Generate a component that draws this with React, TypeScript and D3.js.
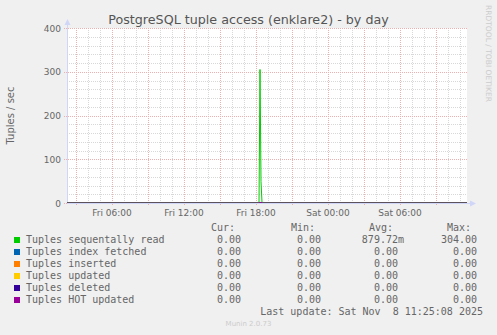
import React from "react";
import * as d3 from "d3";

const W = 497;
const H = 335;

const title = "PostgreSQL tuple access (enklare2) - by day";
const yLabel = "Tuples / sec";
const yTicks = [0, 100, 200, 300, 400];
const timeStart = new Date(2025, 10, 7, 2, 15);
const timeEnd = new Date(2025, 10, 8, 11, 35);
const xTickLabels = ["Fri 06:00", "Fri 12:00", "Fri 18:00", "Sat 00:00", "Sat 06:00"];
const xTickTimes = [
  new Date(2025, 10, 7, 6),
  new Date(2025, 10, 7, 12),
  new Date(2025, 10, 7, 18),
  new Date(2025, 10, 8, 0),
  new Date(2025, 10, 8, 6),
];

// sequential-read series (5-minute samples; 0 elsewhere)
const seqTimes = [
  new Date(2025, 10, 7, 2, 15),
  new Date(2025, 10, 7, 18, 15),
  new Date(2025, 10, 7, 18, 20),
  new Date(2025, 10, 7, 18, 25),
  new Date(2025, 10, 7, 18, 30),
  new Date(2025, 10, 8, 11, 35),
];
const seqValues = [0, 0, 304, 48, 0, 0];

const seriesNames = [
  "Tuples sequentally read",
  "Tuples index fetched",
  "Tuples inserted",
  "Tuples updated",
  "Tuples deleted",
  "Tuples HOT updated",
];
const seriesColors = ["#00CC00", "#0066B3", "#FF8000", "#FFCC00", "#330099", "#990099"];
const curValues = ["0.00", "0.00", "0.00", "0.00", "0.00", "0.00"];
const minValues = ["0.00", "0.00", "0.00", "0.00", "0.00", "0.00"];
const avgValues = ["879.72m", "0.00 ", "0.00 ", "0.00 ", "0.00 ", "0.00 "];
const maxValues = ["304.00", "0.00", "0.00", "0.00", "0.00", "0.00"];
const lastUpdate = "Last update: Sat Nov  8 11:25:08 2025";

const PL = 67, PR = 467, PT = 28, PB = 203;

export default function App() {
  const x = d3.scaleTime().domain([timeStart, timeEnd]).range([PL, PR]);
  const y = d3.scaleLinear().domain([0, 400]).range([PB, PT]);

  const hours = d3.timeHour.range(timeStart, timeEnd);
  const minorY = d3.range(0, 401, 20);

  const line = d3
    .line<number>()
    .x((_, i) => x(seqTimes[i]))
    .y((v) => y(v));

  const flat = d3
    .line<Date>()
    .x((t) => x(t))
    .y(() => y(0));

  const mono = "'DejaVu Sans Mono', monospace";
  const sans = "'DejaVu Sans', sans-serif";
  const fc = "#666666";

  const majorColor = "#EDB0B0";
  const minorColor = "#D8D8D8";

  return (
    <svg
      width={W}
      height={H}
      style={{ position: "absolute", left: 0, top: 0, display: "block" }}
      xmlns="http://www.w3.org/2000/svg"
    >
      <rect x={0} y={0} width={W} height={H} fill="#F0F0F0" />
      <rect x={PL} y={PT} width={PR - PL} height={PB - PT} fill="#FFFFFF" />

      {/* minor grid */}
      {minorY
        .filter((v) => v % 100 !== 0)
        .map((v) => (
          <line key={"my" + v} x1={PL} x2={PR} y1={Math.round(y(v)) + 0.5} y2={Math.round(y(v)) + 0.5}
            stroke={minorColor} strokeDasharray="1,1" />
        ))}
      {hours
        .filter((h) => h.getHours() % 3 !== 0)
        .map((h) => (
          <line key={"mx" + +h} x1={Math.round(x(h)) + 0.5} x2={Math.round(x(h)) + 0.5} y1={PT} y2={PB}
            stroke={minorColor} strokeDasharray="1,1" />
        ))}
      {/* major grid */}
      {yTicks.map((v) => (
        <line key={"My" + v} x1={PL - 3} x2={PR} y1={Math.round(y(v)) + 0.5} y2={Math.round(y(v)) + 0.5}
          stroke={majorColor} strokeDasharray="1,1" />
      ))}
      {hours
        .filter((h) => h.getHours() % 3 === 0)
        .map((h) => (
          <line key={"Mx" + +h} x1={Math.round(x(h)) + 0.5} x2={Math.round(x(h)) + 0.5} y1={PT} y2={PB + 3}
            stroke={majorColor} strokeDasharray="1,1" />
        ))}

      {/* axes */}
      <line x1={PL + 0.5} x2={PL + 0.5} y1={PB} y2={PT - 4} stroke="#CFD6F8" />
      <path d={`M${PL - 2.5},${PT - 3} L${PL + 3.5},${PT - 3} L${PL + 0.5},${PT - 9} Z`} fill="#CFD6F8" />
      <line x1={PL} x2={PR + 4} y1={PB + 0.5} y2={PB + 0.5} stroke="#CFD6F8" />
      <path d={`M${PR + 3},${PB - 2.5} L${PR + 3},${PB + 3.5} L${PR + 9},${PB + 0.5} Z`} fill="#CFD6F8" />

      {/* series */}
      {seriesColors.slice(1).map((c, i) => (
        <path key={"s" + i} d={flat([timeStart, timeEnd]) || ""} stroke={c} fill="none" strokeWidth={1}
          transform="translate(0,-0.5)" />
      ))}
      <path d={line(seqValues) || ""} stroke={seriesColors[0]} fill="none" strokeWidth={1} transform="translate(0,-0.5)" />
      <path d={flat([timeStart, timeEnd]) || ""} stroke={seriesColors[5]} fill="none" strokeWidth={1} opacity={0.6}
        transform="translate(0,-0.5)" />

      {/* y ticks */}
      {yTicks.map((v) => (
        <text key={"yt" + v} x={61} y={y(v) + 3.5} textAnchor="end" fontFamily={sans} fontSize={9} fill={fc}>
          {v}
        </text>
      ))}
      {/* x ticks */}
      {xTickTimes.map((t, i) => (
        <text key={"xt" + i} x={x(t)} y={215.5} textAnchor="middle" fontFamily={sans} fontSize={9} fill={fc}>
          {xTickLabels[i]}
        </text>
      ))}

      {/* title */}
      <text x={W / 2} y={23.5} textAnchor="middle" fontFamily={sans} fontSize={12.7} fill="#555555">
        {title}
      </text>
      <text transform={`translate(13.5,${(PT + PB) / 2}) rotate(-90)`} textAnchor="middle" fontFamily={sans}
        fontSize={10} fill={fc}>
        {yLabel}
      </text>
      <text transform={`translate(486,5) rotate(90)`} textAnchor="start" fontFamily={sans} fontSize={7.5}
        fill="#CCCCCC" textLength={97} lengthAdjust="spacingAndGlyphs">
        RRDTOOL / TOBI OETIKER
      </text>

      {/* legend */}
      <g fontFamily={mono} fontSize={10} fill={fc} style={{ whiteSpace: "pre" }}>
        <text x={235} y={231} textAnchor="end">Cur:</text>
        <text x={315} y={231} textAnchor="end">Min:</text>
        <text x={393} y={231} textAnchor="end">Avg:</text>
        <text x={471} y={231} textAnchor="end">Max:</text>
        {seriesNames.map((n, i) => {
          const by = 243 + i * 12;
          return (
            <g key={"lg" + i}>
              <rect x={14} y={by - 6} width={6} height={6} fill={seriesColors[i]} />
              <text x={26} y={by}>{n}</text>
              <text x={241} y={by} textAnchor="end">{curValues[i]}</text>
              <text x={321} y={by} textAnchor="end">{minValues[i]}</text>
              <text x={404} y={by} textAnchor="end" xmlSpace="preserve">{avgValues[i]}</text>
              <text x={477} y={by} textAnchor="end">{maxValues[i]}</text>
            </g>
          );
        })}
        <text x={483} y={315} textAnchor="end" xmlSpace="preserve">{lastUpdate}</text>
      </g>
      <text x={W / 2} y={325.5} textAnchor="middle" fontFamily={sans} fontSize={7} fill="#CCCCCC">
        Munin 2.0.73
      </text>
    </svg>
  );
}
